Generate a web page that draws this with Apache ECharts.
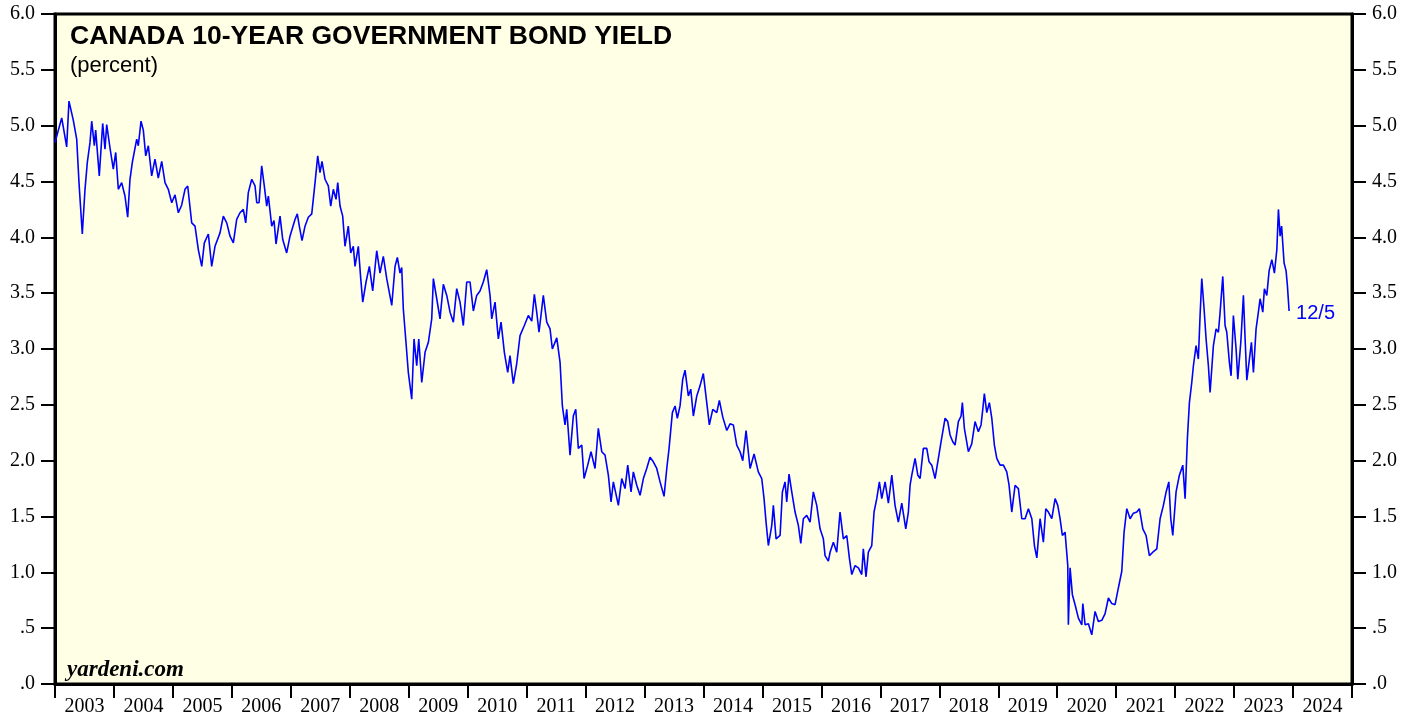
<!DOCTYPE html>
<html>
<head>
<meta charset="utf-8">
<script src="https://cdn.jsdelivr.net/npm/echarts@6/dist/echarts.min.js"></script>
<style>
  html, body { margin: 0; padding: 0; background: #ffffff; }
  #chart { width: 1419px; height: 717px; }
</style>
</head>
<body>
<div id="chart"></div>
<script>
// year labels under the axis
var yearLabels = ['2003', '2004', '2005', '2006', '2007', '2008', '2009', '2010', '2011', '2012', '2013',
    '2014', '2015', '2016', '2017', '2018', '2019', '2020', '2021', '2022', '2023', '2024'];

// position in decimal years
var yearPos = [
    2003.000, 2003.114, 2003.198, 2003.237, 2003.310, 2003.368, 2003.407, 2003.463, 2003.509, 2003.548,
    2003.594, 2003.623, 2003.667, 2003.690, 2003.751, 2003.809, 2003.848, 2003.877, 2003.933, 2003.989,
    2004.030, 2004.074, 2004.131, 2004.187, 2004.233, 2004.272, 2004.311, 2004.386, 2004.413, 2004.459,
    2004.498, 2004.539, 2004.583, 2004.640, 2004.696, 2004.752, 2004.810, 2004.866, 2004.922, 2004.980,
    2005.036, 2005.092, 2005.149, 2005.205, 2005.251, 2005.319, 2005.375, 2005.431, 2005.489, 2005.533,
    2005.601, 2005.658, 2005.714, 2005.799, 2005.855, 2005.913, 2005.969, 2006.025, 2006.082, 2006.138,
    2006.194, 2006.235, 2006.279, 2006.337, 2006.393, 2006.422, 2006.461, 2006.506, 2006.550, 2006.591,
    2006.619, 2006.676, 2006.715, 2006.749, 2006.817, 2006.863, 2006.930, 2006.986, 2007.071, 2007.110,
    2007.144, 2007.190, 2007.241, 2007.297, 2007.355, 2007.411, 2007.456, 2007.495, 2007.529, 2007.580,
    2007.636, 2007.677, 2007.721, 2007.767, 2007.796, 2007.835, 2007.880, 2007.919, 2007.975, 2008.016,
    2008.060, 2008.089, 2008.145, 2008.186, 2008.220, 2008.276, 2008.332, 2008.389, 2008.457, 2008.513,
    2008.569, 2008.627, 2008.712, 2008.768, 2008.807, 2008.852, 2008.881, 2008.908, 2008.949, 2008.993,
    2009.051, 2009.090, 2009.136, 2009.170, 2009.221, 2009.277, 2009.333, 2009.390, 2009.418, 2009.475,
    2009.531, 2009.587, 2009.645, 2009.701, 2009.757, 2009.814, 2009.870, 2009.926, 2009.984, 2010.040,
    2010.096, 2010.153, 2010.209, 2010.265, 2010.323, 2010.379, 2010.408, 2010.464, 2010.520, 2010.566,
    2010.622, 2010.679, 2010.718, 2010.774, 2010.832, 2010.888, 2010.961, 2011.029, 2011.087, 2011.131,
    2011.171, 2011.210, 2011.283, 2011.341, 2011.397, 2011.436, 2011.511, 2011.567, 2011.606, 2011.651,
    2011.680, 2011.736, 2011.792, 2011.833, 2011.877, 2011.935, 2011.974, 2012.036, 2012.092, 2012.160,
    2012.216, 2012.274, 2012.330, 2012.386, 2012.432, 2012.471, 2012.556, 2012.613, 2012.669, 2012.715,
    2012.771, 2012.810, 2012.868, 2012.924, 2012.980, 2013.037, 2013.093, 2013.149, 2013.207, 2013.263,
    2013.331, 2013.377, 2013.416, 2013.472, 2013.518, 2013.556, 2013.602, 2013.648, 2013.687, 2013.743,
    2013.784, 2013.828, 2013.886, 2013.941, 2013.997, 2014.055, 2014.099, 2014.157, 2014.225, 2014.269,
    2014.327, 2014.395, 2014.450, 2014.506, 2014.564, 2014.620, 2014.666, 2014.722, 2014.790, 2014.858,
    2014.930, 2014.988, 2015.027, 2015.061, 2015.100, 2015.158, 2015.185, 2015.231, 2015.299, 2015.338,
    2015.383, 2015.412, 2015.451, 2015.497, 2015.553, 2015.609, 2015.650, 2015.694, 2015.751, 2015.808,
    2015.863, 2015.921, 2015.977, 2016.033, 2016.062, 2016.118, 2016.147, 2016.203, 2016.260, 2016.316,
    2016.372, 2016.430, 2016.474, 2016.515, 2016.571, 2016.627, 2016.684, 2016.711, 2016.757, 2016.796,
    2016.854, 2016.893, 2016.939, 2016.983, 2017.024, 2017.080, 2017.136, 2017.194, 2017.249, 2017.305,
    2017.363, 2017.431, 2017.475, 2017.504, 2017.533, 2017.589, 2017.635, 2017.674, 2017.729, 2017.787,
    2017.826, 2017.872, 2017.928, 2017.984, 2018.030, 2018.098, 2018.143, 2018.182, 2018.228, 2018.267,
    2018.323, 2018.369, 2018.391, 2018.425, 2018.493, 2018.550, 2018.606, 2018.662, 2018.708, 2018.737,
    2018.764, 2018.805, 2018.849, 2018.890, 2018.934, 2018.975, 2019.031, 2019.087, 2019.144, 2019.183,
    2019.229, 2019.285, 2019.341, 2019.399, 2019.455, 2019.511, 2019.569, 2019.613, 2019.654, 2019.709,
    2019.765, 2019.806, 2019.850, 2019.908, 2019.964, 2020.009, 2020.048, 2020.087, 2020.133, 2020.179,
    2020.189, 2020.218, 2020.257, 2020.303, 2020.359, 2020.417, 2020.434, 2020.473, 2020.529, 2020.586,
    2020.642, 2020.698, 2020.756, 2020.812, 2020.868, 2020.926, 2020.981, 2021.037, 2021.095, 2021.134,
    2021.180, 2021.236, 2021.292, 2021.350, 2021.394, 2021.452, 2021.507, 2021.563, 2021.621, 2021.689,
    2021.745, 2021.801, 2021.847, 2021.893, 2021.926, 2021.960, 2022.016, 2022.072, 2022.130, 2022.169,
    2022.208, 2022.242, 2022.282, 2022.310, 2022.355, 2022.394, 2022.423, 2022.452, 2022.491, 2022.525,
    2022.564, 2022.593, 2022.649, 2022.695, 2022.734, 2022.763, 2022.808, 2022.847, 2022.876, 2022.920,
    2022.949, 2022.988, 2023.034, 2023.063, 2023.114, 2023.158, 2023.187, 2023.216, 2023.260, 2023.294,
    2023.328, 2023.373, 2023.412, 2023.441, 2023.487, 2023.514, 2023.555, 2023.594, 2023.640, 2023.684,
    2023.725, 2023.752, 2023.781, 2023.806, 2023.848, 2023.882, 2023.904, 2023.933
];

// 10-year yield, percent
var yieldPct = [
    4.85, 5.07, 4.81, 5.22, 5.05, 4.88, 4.49, 4.03, 4.43, 4.67,
    4.85, 5.04, 4.82, 4.96, 4.55, 5.02, 4.79, 5.01, 4.80, 4.61,
    4.76, 4.43, 4.49, 4.37, 4.18, 4.52, 4.67, 4.88, 4.82, 5.04,
    4.96, 4.73, 4.82, 4.55, 4.70, 4.53, 4.68, 4.49, 4.43, 4.31,
    4.38, 4.22, 4.29, 4.43, 4.46, 4.13, 4.10, 3.89, 3.74, 3.95,
    4.03, 3.74, 3.92, 4.04, 4.19, 4.13, 4.01, 3.95, 4.16, 4.22,
    4.25, 4.13, 4.40, 4.52, 4.46, 4.31, 4.31, 4.64, 4.46, 4.28,
    4.37, 4.10, 4.15, 3.94, 4.19, 3.98, 3.86, 4.01, 4.16, 4.21,
    4.10, 3.97, 4.10, 4.18, 4.21, 4.49, 4.73, 4.58, 4.68, 4.52,
    4.46, 4.28, 4.43, 4.34, 4.49, 4.28, 4.19, 3.92, 4.10, 3.86,
    3.92, 3.74, 3.92, 3.63, 3.42, 3.60, 3.74, 3.52, 3.88, 3.68,
    3.83, 3.63, 3.39, 3.74, 3.82, 3.68, 3.73, 3.36, 3.09, 2.79,
    2.55, 3.09, 2.85, 3.09, 2.70, 2.97, 3.06, 3.27, 3.63, 3.45,
    3.27, 3.58, 3.48, 3.33, 3.24, 3.54, 3.42, 3.21, 3.60, 3.60,
    3.34, 3.48, 3.52, 3.60, 3.71, 3.48, 3.27, 3.42, 3.09, 3.24,
    2.97, 2.79, 2.94, 2.69, 2.87, 3.12, 3.21, 3.30, 3.25, 3.49,
    3.33, 3.15, 3.48, 3.24, 3.18, 3.00, 3.10, 2.88, 2.49, 2.32,
    2.46, 2.05, 2.40, 2.46, 2.11, 2.14, 1.84, 1.96, 2.08, 1.93,
    2.29, 2.08, 2.05, 1.87, 1.63, 1.81, 1.60, 1.84, 1.75, 1.96,
    1.72, 1.90, 1.78, 1.69, 1.84, 1.93, 2.03, 1.99, 1.93, 1.81,
    1.68, 1.93, 2.11, 2.43, 2.49, 2.38, 2.49, 2.73, 2.81, 2.58,
    2.64, 2.40, 2.58, 2.67, 2.78, 2.52, 2.32, 2.46, 2.43, 2.54,
    2.39, 2.27, 2.33, 2.32, 2.14, 2.08, 2.00, 2.27, 1.93, 2.06,
    1.90, 1.84, 1.66, 1.45, 1.24, 1.42, 1.60, 1.30, 1.33, 1.72,
    1.81, 1.63, 1.88, 1.72, 1.54, 1.42, 1.26, 1.48, 1.51, 1.45,
    1.72, 1.60, 1.39, 1.30, 1.15, 1.10, 1.18, 1.27, 1.18, 1.54,
    1.30, 1.33, 1.13, 0.98, 1.06, 1.04, 0.98, 1.21, 0.96, 1.18,
    1.24, 1.54, 1.66, 1.81, 1.66, 1.81, 1.62, 1.87, 1.60, 1.45,
    1.62, 1.39, 1.54, 1.78, 1.87, 2.02, 1.87, 1.84, 2.11, 2.11,
    1.99, 1.96, 1.84, 2.02, 2.17, 2.38, 2.35, 2.23, 2.17, 2.14,
    2.35, 2.40, 2.52, 2.29, 2.08, 2.15, 2.35, 2.26, 2.32, 2.46,
    2.60, 2.43, 2.52, 2.38, 2.14, 2.02, 1.96, 1.96, 1.90, 1.78,
    1.54, 1.78, 1.75, 1.48, 1.48, 1.57, 1.48, 1.24, 1.13, 1.48,
    1.27, 1.57, 1.54, 1.48, 1.66, 1.60, 1.48, 1.33, 1.36, 1.06,
    0.53, 1.04, 0.80, 0.71, 0.59, 0.53, 0.72, 0.53, 0.54, 0.44,
    0.65, 0.56, 0.57, 0.63, 0.77, 0.72, 0.71, 0.86, 1.01, 1.36,
    1.57, 1.48, 1.53, 1.54, 1.57, 1.39, 1.33, 1.15, 1.18, 1.21,
    1.48, 1.60, 1.72, 1.81, 1.48, 1.33, 1.72, 1.87, 1.96, 1.66,
    2.20, 2.52, 2.70, 2.85, 3.03, 2.91, 3.30, 3.63, 3.36, 3.09,
    2.85, 2.61, 3.03, 3.18, 3.15, 3.33, 3.65, 3.21, 3.15, 2.88,
    2.76, 3.30, 3.00, 2.73, 3.06, 3.48, 3.09, 2.72, 2.91, 3.06,
    2.79, 3.18, 3.33, 3.45, 3.33, 3.54, 3.48, 3.70, 3.80, 3.68,
    3.89, 4.25, 4.01, 4.10, 3.77, 3.70, 3.57, 3.34
];

var lastLabel = '12/5';

var seriesData = yearPos.map(function (x, i) { return [x, yieldPct[i]]; });

var myChart = echarts.init(document.getElementById('chart'));

function yLabel(v) {
    if (v === 0) return '.0';
    if (v < 1) return '.' + String(v).split('.')[1];
    return v.toFixed(1);
}

var tickFont = {
    fontFamily: 'Liberation Serif',
    fontSize: 20,
    color: '#000'
};

var yAxisBase = {
    type: 'value',
    min: 0,
    max: 6,
    interval: 0.5,
    axisLine: { show: true, lineStyle: { color: '#000', width: 3 } },
    axisTick: { show: true, inside: false, length: 14, lineStyle: { color: '#000', width: 2 } },
    splitLine: { show: false },
    axisLabel: Object.assign({ margin: 20, formatter: yLabel }, tickFont)
};

var option = {
    animation: false,
    backgroundColor: '#ffffff',
    title: {
        text: 'CANADA 10-YEAR GOVERNMENT BOND YIELD',
        subtext: '(percent)',
        left: 70,
        top: 23,
        padding: 0,
        itemGap: 5,
        textStyle: {
            fontFamily: 'Liberation Sans',
            fontWeight: 'bold',
            fontSize: 26.5,
            color: '#000'
        },
        subtextStyle: {
            fontFamily: 'Liberation Sans',
            fontSize: 22,
            color: '#000'
        }
    },
    graphic: [{
        type: 'text',
        left: 67,
        top: 659,
        style: {
            text: 'yardeni.com',
            font: 'italic bold 23px "Liberation Serif"',
            fill: '#000'
        }
    }],
    grid: {
        left: 55,
        right: 67,
        top: 14,
        bottom: 31,
        show: true,
        backgroundColor: '#ffffe5',
        borderColor: '#000',
        borderWidth: 3
    },
    xAxis: [
        {
            // value axis the line is drawn on
            type: 'value',
            min: 2003,
            max: 2025,
            show: false
        },
        {
            // year bands with ticks at the year boundaries
            type: 'category',
            data: yearLabels,
            boundaryGap: true,
            position: 'bottom',
            axisLine: { show: true, lineStyle: { color: '#000', width: 3 } },
            axisTick: { show: true, inside: false, length: 14, lineStyle: { color: '#000', width: 2 } },
            splitLine: { show: false },
            axisLabel: Object.assign({ margin: 13, interval: 0 }, tickFont)
        }
    ],
    yAxis: [
        Object.assign({ position: 'left' }, yAxisBase),
        Object.assign({ position: 'right' }, yAxisBase)
    ],
    series: [{
        type: 'line',
        xAxisIndex: 0,
        yAxisIndex: 0,
        data: seriesData,
        showSymbol: false,
        symbol: 'none',
        lineStyle: { color: '#0000ff', width: 1.6 },
        endLabel: {
            show: true,
            formatter: lastLabel,
            color: '#0000ff',
            fontFamily: 'Liberation Sans',
            fontSize: 20,
            distance: 7,
            offset: [0, 2]
        }
    }]
};

myChart.setOption(option);
</script>
</body>
</html>
